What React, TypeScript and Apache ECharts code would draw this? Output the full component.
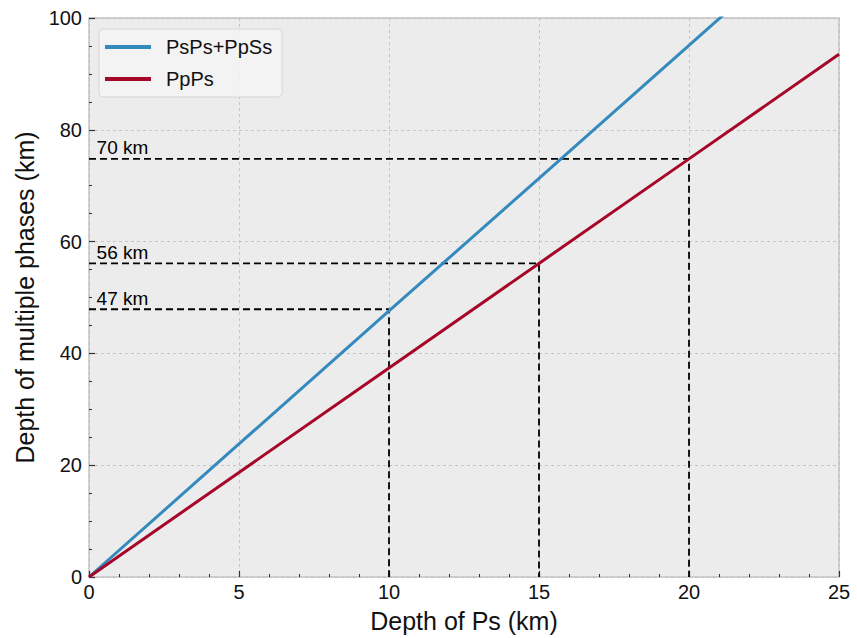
import React, { useEffect, useRef } from "react";
import * as echarts from "echarts";

const psDepth = [0, 5, 10, 15, 20, 25];
const psPsPpSs = [0, 23.8, 47.6, 71.3, 95.1, 118.9];
const ppPs = [0, 18.7, 37.4, 56.1, 74.8, 93.5];
const refX = [10, 15, 20];
const refY = [47.9, 56.1, 74.8];
const refLabels = ["47 km", "56 km", "70 km"];
const xTicks = [0, 5, 10, 15, 20, 25];
const yTicks = [0, 20, 40, 60, 80, 100];

const FONT = "Liberation Sans";

export default function App() {
  const ref = useRef<HTMLDivElement>(null);
  useEffect(() => {
    const chart = echarts.init(ref.current!, null, { renderer: "svg" });
    const refSeries = refX.map((x, i) => ({
      type: "line",
      data: [
        [0, refY[i]],
        [x, refY[i]],
        [x, 0],
      ],
      symbol: "none",
      lineStyle: { color: "#000", width: 1.8, type: [7, 4] },
      silent: true,
      z: 1,
    }));
    const labelSeries = {
      type: "scatter",
      symbolSize: 1,
      itemStyle: { color: "rgba(0,0,0,0)", opacity: 1 },
      data: refY.map((y, i) => ({
        value: [0.27, y],
        label: {
          show: true,
          formatter: refLabels[i],
          position: [0, 0],
          align: "left",
          verticalAlign: "bottom",
          offset: [0, -1],
          color: "#000",
          opacity: 1,
          fontSize: 19,
          fontFamily: FONT,
        },
      })),
      z: 3,
    };
    chart.setOption({
      animation: false,
      grid: {
        left: 89,
        top: 18,
        right: 18,
        bottom: 60,
        show: true,
        backgroundColor: "#ececec",
        borderColor: "#c4c4c4",
        borderWidth: 1.5,
      },
      legend: {
        left: 99,
        top: 29,
        orient: "vertical",
        data: ["PsPs+PpSs", "PpPs"],
        icon: "rect",
        itemWidth: 46,
        itemHeight: 4,
        itemGap: 12,
        padding: [8, 10, 8, 6],
        backgroundColor: "rgba(245,245,245,0.85)",
        borderColor: "#d6d6d6",
        borderWidth: 1,
        borderRadius: 4,
        textStyle: { fontSize: 20, fontFamily: FONT, color: "#111", padding: [0, 0, 0, 10] },
      },
      xAxis: {
        type: "value",
        min: 0,
        max: 25,
        interval: 5,
        name: "Depth of Ps (km)",
        nameLocation: "middle",
        nameGap: 31,
        nameTextStyle: { fontSize: 25, fontFamily: FONT, color: "#111" },
        axisLine: { show: false },
        axisTick: { show: true, inside: true, length: 6, lineStyle: { color: "#333", width: 1.2 } },
        minorTick: { show: true, splitNumber: 5, length: 3, lineStyle: { color: "#333", width: 1 } },
        axisLabel: { fontSize: 20, fontFamily: FONT, color: "#111", margin: 5, customValues: xTicks },
        splitLine: { show: true, lineStyle: { color: "#bdbdbd", type: [3, 3], width: 0.8 } },
      },
      yAxis: {
        type: "value",
        min: 0,
        max: 100,
        interval: 20,
        name: "Depth of multiple phases (km)",
        nameLocation: "middle",
        nameGap: 50,
        nameTextStyle: { fontSize: 25, fontFamily: FONT, color: "#111" },
        axisLine: { show: false },
        axisTick: { show: true, inside: true, length: 6, lineStyle: { color: "#333", width: 1.2 } },
        minorTick: { show: true, splitNumber: 4, length: 3, lineStyle: { color: "#333", width: 1 } },
        axisLabel: { fontSize: 20, fontFamily: FONT, color: "#111", margin: 7, customValues: yTicks },
        splitLine: { show: true, lineStyle: { color: "#bdbdbd", type: [3, 3], width: 0.8 } },
      },
      series: [
        ...refSeries,
        labelSeries,
        {
          name: "PsPs+PpSs",
          type: "line",
          data: psDepth.map((x, i) => [x, psPsPpSs[i]]),
          symbol: "none",
          clip: true,
          color: "#348abd",
          lineStyle: { color: "#348abd", width: 3 },
          z: 5,
        },
        {
          name: "PpPs",
          type: "line",
          data: psDepth.map((x, i) => [x, ppPs[i]]),
          symbol: "none",
          clip: true,
          color: "#a60628",
          lineStyle: { color: "#a60628", width: 3 },
          z: 5,
        },
      ],
    });
    return () => chart.dispose();
  }, []);
  return (
    <div
      ref={ref}
      style={{ position: "fixed", left: 0, top: 0, width: 857, height: 638, background: "#fff" }}
    />
  );
}
